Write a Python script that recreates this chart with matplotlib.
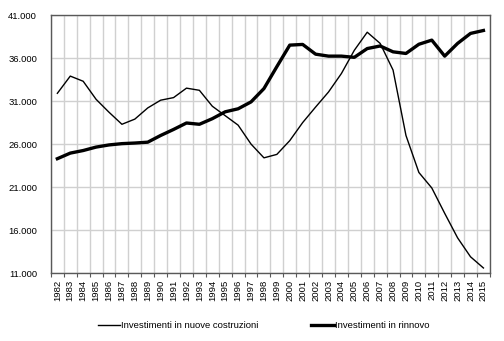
import matplotlib.pyplot as plt
import numpy as np

plt.rcParams["font.family"] = ["Liberation Sans", "DejaVu Sans"]

years = [str(y) for y in range(1982, 2016)]

nuove_costruzioni = [
    31900, 33900, 33300, 31200, 29700, 28300, 28900, 30200, 31100, 31400,
    32500, 32250, 30400, 29300, 28200, 26000, 24400, 24800, 26400, 28500,
    30300, 32050, 34200, 36900, 39000, 37700, 34600, 27000, 22700, 20900,
    17950, 15100, 12900, 11600,
]
rinnovo = [
    24300, 24950, 25250, 25650, 25900, 26050, 26120, 26220, 27000, 27700,
    28450, 28300, 28950, 29750, 30100, 30900, 32450, 35000, 37500, 37580,
    36450, 36220, 36220, 36080, 37100, 37400, 36720, 36530, 37600, 38080,
    36220, 37700, 38860, 39200,
]

y_ticks = [11000, 16000, 21000, 26000, 31000, 36000, 41000]
fs = 6.8

fig = plt.figure(figsize=(5.04, 3.41), dpi=100)
ax = fig.add_axes([0.101, 0.199, 0.871, 0.757])

x = np.arange(len(years))
ax.plot(x, nuove_costruzioni, color="black", lw=1.0,
        label="Investimenti in nuove costruzioni", zorder=3)
ax.plot(x, rinnovo, color="black", lw=2.4,
        label="Investimenti in rinnovo", zorder=3)

ax.set_xlim(-0.5, len(years) - 0.5)
ax.set_ylim(11000, 41000)

# categories sit between the tick marks, as in a spreadsheet line chart
ax.set_xticks(x)
ax.set_xticklabels(years, rotation=90, fontsize=fs)
ax.set_xticks(np.arange(-0.5, len(years)), minor=True)
ax.tick_params(axis="x", which="major", length=0, pad=5)
ax.tick_params(axis="x", which="minor", length=3, width=0.8, color="#595959")

ax.set_yticks(y_ticks)
ax.set_yticklabels([f"{v:,}".replace(",", ".") for v in y_ticks], fontsize=fs)
ax.tick_params(axis="y", length=0, pad=10)

ax.grid(True, axis="y", which="major", color="#d0d0d0", lw=1.0)
ax.grid(True, axis="x", which="minor", color="#d0d0d0", lw=1.0)
ax.set_axisbelow(True)

for s in ax.spines.values():
    s.set_color("#595959")
    s.set_linewidth(1.0)

fig.legend(loc="center", bbox_to_anchor=(0.523, 0.045), ncol=2,
           frameon=False, fontsize=fs, handlelength=2.4, handletextpad=0.1,
           columnspacing=5.6)

fig.savefig("out.png", dpi=100)
